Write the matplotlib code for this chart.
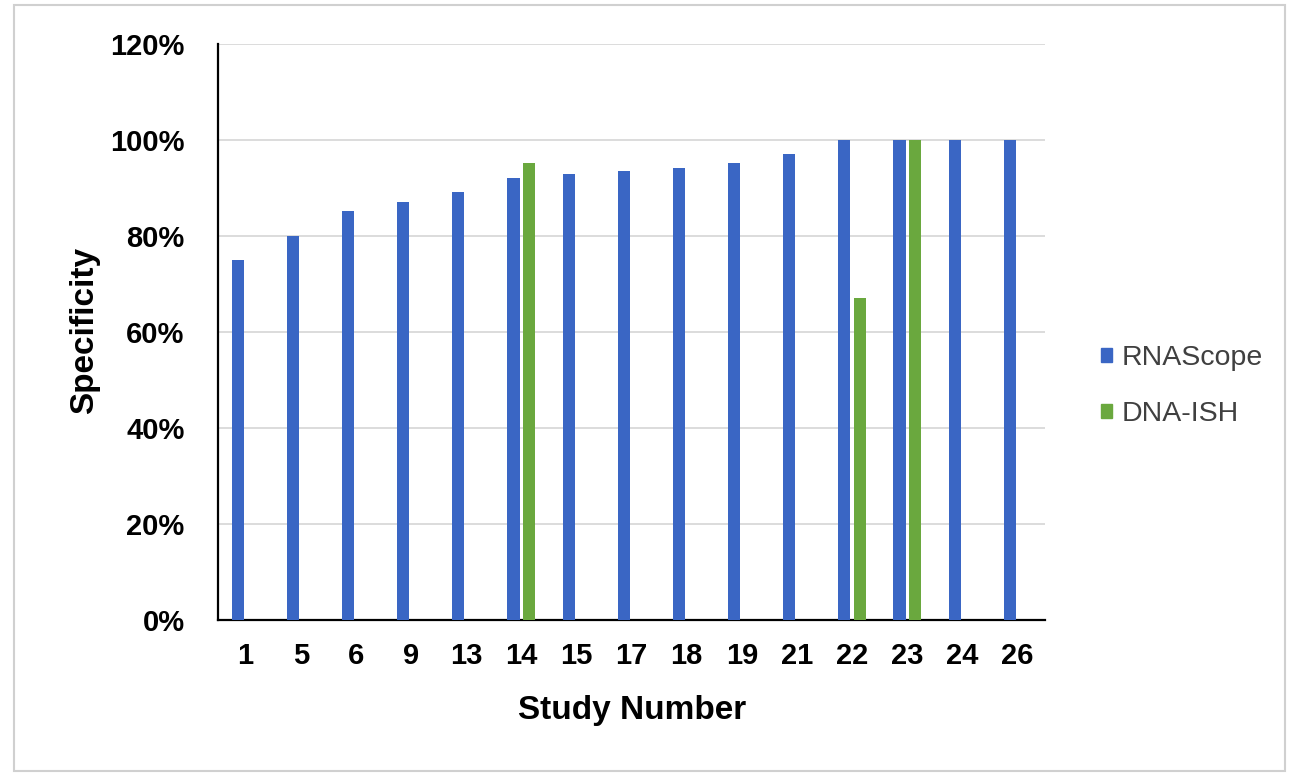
import matplotlib
matplotlib.use("Agg")
import matplotlib.pyplot as plt
import numpy as np
from matplotlib.patches import Patch, Rectangle
from matplotlib.ticker import PercentFormatter

studies = ["1", "5", "6", "9", "13", "14", "15", "17", "18", "19", "21", "22", "23", "24", "26"]
rnascope = [75, 80, 85.2, 87, 89.2, 92, 93, 93.5, 94.2, 95.2, 97, 100, 100, 100, 100]
dna_ish = [np.nan, np.nan, np.nan, np.nan, np.nan, 95.2, np.nan, np.nan, np.nan, np.nan, np.nan, 67, 100, np.nan, np.nan]
series_names = ["RNAScope", "DNA-ISH"]

blue = "#3a66c4"
green = "#6aa83e"

plt.rcParams['font.family'] = ['Liberation Sans', 'DejaVu Sans']

fig = plt.figure(figsize=(12.95, 7.75), dpi=100)
ax = fig.add_axes([218/1295, 1-620/775, (1045-218)/1295, (620-44)/775])

x = np.arange(len(studies))
w = 0.22
off = 0.14
ax.bar(x - off, rnascope, width=w, color=blue, zorder=3)
ax.bar(x + off, dna_ish, width=w, color=green, zorder=3)

ax.set_xlim(-0.5, len(studies) - 0.5)
ax.set_ylim(0, 120)
ax.set_yticks(np.arange(0, 121, 20))
ax.yaxis.set_major_formatter(PercentFormatter(decimals=0))
ax.set_xticks(x)
ax.set_xticklabels(studies)
ax.grid(axis='y', color='#d9d9d9', linewidth=1.3, zorder=0)
ax.set_axisbelow(True)
for s in ['top', 'right']:
    ax.spines[s].set_visible(False)
ax.spines['left'].set_color('black')
ax.spines['bottom'].set_color('black')
ax.spines['left'].set_linewidth(1.6)
ax.spines['bottom'].set_linewidth(1.6)
ax.tick_params(axis='both', length=0, labelsize=21)
ax.tick_params(axis='y', pad=24)
ax.tick_params(axis='x', pad=16)
for lab in ax.get_xticklabels() + ax.get_yticklabels():
    lab.set_fontweight('bold')

fig.text(85/1295, 1-330/775, "Specificity", rotation=90, ha='center', va='center',
         fontsize=24, fontweight='bold')
fig.text(632/1295, 1-710/775, "Study Number", ha='center', va='center',
         fontsize=24, fontweight='bold')

handles = [Patch(color=blue), Patch(color=green)]
leg = fig.legend(handles, series_names, loc='center left',
                 bbox_to_anchor=(1075/1295, 1-386/775), frameon=False,
                 fontsize=20.5, handlelength=0.4, handleheight=0.4,
                 labelspacing=1.05, handletextpad=0.35)
for t in leg.get_texts():
    t.set_color('#404040')

fig.patches.append(Rectangle((14/1295, 4/775), (1285-14)/1295, (770-4)/775,
                             transform=fig.transFigure, fill=False,
                             edgecolor='#d0d0d0', linewidth=1.5))

fig.savefig("out.png", dpi=100)
